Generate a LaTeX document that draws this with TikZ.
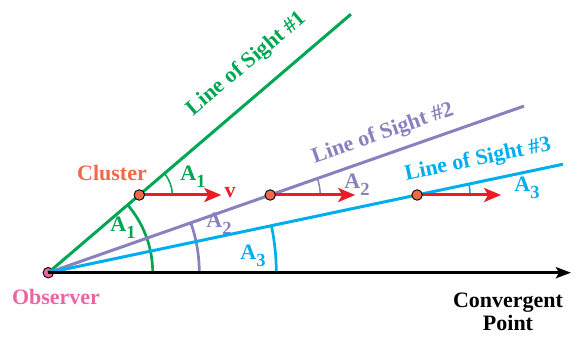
\documentclass[tikz,border=0pt]{standalone}
\usepackage{fontspec}
\setmainfont{Liberation Serif}
\usetikzlibrary{arrows.meta,calc}
\definecolor{losgreen}{HTML}{00A651}
\definecolor{lospurple}{HTML}{8880BF}
\definecolor{loscyan}{HTML}{00AEEF}
\definecolor{velred}{HTML}{ED1C24}
\definecolor{clusterorange}{HTML}{F0694A}
\definecolor{obspink}{HTML}{EA65A6}
\newcommand\Asub[1]{A\raisebox{-0.32em}{\fontsize{18.5}{18.5}\selectfont #1}}
\begin{document}
\begin{tikzpicture}[x=1pt,y=1pt,
  lbl/.style={font=\bfseries\fontsize{22}{23.5}\selectfont, inner sep=0pt},
  sight/.style={line width=3pt},
  bigarc/.style={line width=2.7pt},
  smallarc/.style={line width=1.5pt},
  vel/.style={velred, line width=3pt, -{Stealth[length=17pt,width=14pt,inset=4pt]}},
  dot/.style={circle, draw=black, line width=0.9pt, minimum size=10.5pt, inner sep=0pt}]
\useasboundingbox (0,0) rectangle (576,340);
% key points
\coordinate (O) at (48.3,67.3);
\coordinate (E1) at ($(O)+(40.5:398)$);
\coordinate (E2) at ($(O)+(19.3:504)$);
\coordinate (E3) at ($(O)+(11.9:526)$);
\coordinate (P) at (571,67.3);
\coordinate (C1p) at (139.3,145);
\coordinate (C2p) at (270.2,145);
\coordinate (C3p) at (417.1,145);
\coordinate (V1) at ($(C1p)+(82,0)$);
\coordinate (V2) at ($(C2p)+(85,0)$);
\coordinate (V3) at ($(C3p)+(84,0)$);
% labels under lines
\node[lbl, losgreen] (a1low) at (123,112) {\Asub{1}};
\node[lbl, lospurple] (a2low) at (219,116) {\Asub{2}};
\node[lbl, loscyan] (a3low) at (253,84) {\Asub{3}};
% observer dot
\node[dot, fill=obspink] (obs) at (O) {};
% big angle arcs
\draw[bigarc, losgreen] ($(O)+(104.4,0)$) arc[start angle=0, end angle=40.5, radius=104.4];
\draw[bigarc, lospurple] ($(O)+(151,0)$) arc[start angle=0, end angle=19.3, radius=151];
\draw[bigarc, loscyan] ($(O)+(228,0)$) arc[start angle=0, end angle=11.9, radius=228];
% small angle arcs at clusters
\draw[smallarc, losgreen] ($(C1p)+(33,0)$) arc[start angle=0, end angle=40.5, radius=33];
\draw[smallarc, lospurple] ($(C2p)+(50,0)$) arc[start angle=0, end angle=19.3, radius=50];
\draw[smallarc, loscyan] ($(C3p)+(53,0)$) arc[start angle=0, end angle=11.9, radius=53];
% lines of sight
\draw[sight, losgreen] (obs.center) -- (E1);
\draw[sight, lospurple] (obs.center) -- (E2);
\draw[sight, loscyan] (obs.center) -- (E3);
% axis
\draw[line width=3pt, -{Stealth[length=15pt,width=11pt,inset=3pt]}] (obs.center) -- (P);
% velocity arrows
\draw[vel] (C1p) -- (V1);
\draw[vel] (C2p) -- (V2);
\draw[vel] (C3p) -- (V3);
% cluster dots
\node[dot, fill=clusterorange] (c1) at (C1p) {};
\node[dot, fill=clusterorange] (c2) at (C2p) {};
\node[dot, fill=clusterorange] (c3) at (C3p) {};
% labels
\node[lbl, clusterorange] (cl) at (112,167) {Cluster};
\node[lbl, velred] (v) at (230,147) {v};
\node[lbl, losgreen] (a1up) at (193,163) {\Asub{1}};
\node[lbl, lospurple] (a2up) at (357,155) {\Asub{2}};
\node[lbl, loscyan] (a3up) at (527,152) {\Asub{3}};
\node[lbl, losgreen, rotate=40.3] (los1) at (247,276) {Line of Sight \#1};
\node[lbl, lospurple, rotate=19.3] (los2) at (383,206) {Line of Sight \#2};
\node[lbl, loscyan, rotate=11.9] (los3) at (478,180) {Line of Sight \#3};
\node[lbl, obspink] (obslbl) at (56,43) {Observer};
\node[lbl, black, align=center] (conv) at (508,28) {Convergent\\Point};
\end{tikzpicture}
\end{document}
